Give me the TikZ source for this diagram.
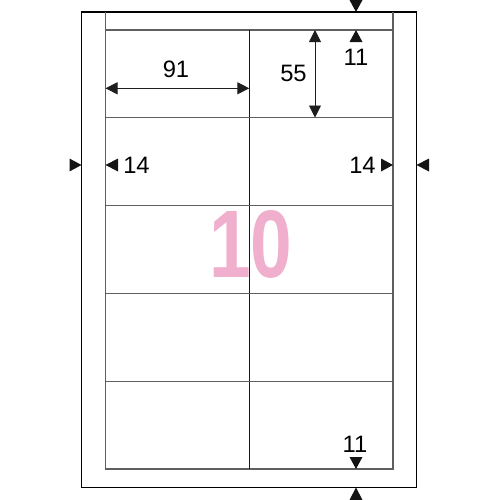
\documentclass[tikz,border=0pt]{standalone}
\usepackage{fontspec}
\setmainfont{Liberation Sans}
\usetikzlibrary{arrows.meta}

\definecolor{tenpink}{RGB}{241,175,206}
\definecolor{sheetgray}{RGB}{95,95,95}

\tikzset{
  dimline/.style={draw={rgb,255:red,30;green,30;blue,30}, line width=0.7pt,
    {Triangle[length=9pt,width=9pt]}-{Triangle[length=9pt,width=9pt]}},
  dimtext/.style={font=\fontsize{17.8}{20}\selectfont, inner sep=0pt},
  marker/.style={fill={rgb,255:red,20;green,20;blue,20}}
}

\begin{document}
\begin{tikzpicture}[x=0.75pt,y=0.75pt,yscale=-1,xscale=1]
\useasboundingbox (0,0) rectangle (500,500);

%Shape: Rectangle [id:sheet]
\draw [line width=0.9pt] (81.5,12) rectangle (416.5,487.5);

%Shape: Label area [id:labels]
\draw [color=sheetgray, line width=0.8pt] (105.5,12) -- (105.5,469) -- (393,469) -- (393,12) ;
\draw [color=sheetgray, line width=0.8pt] (105.5,30) -- (393,30) ;
\draw [color={rgb,255:red,25;green,25;blue,25}, line width=0.8pt] (249.3,30) -- (249.3,469) ;
\foreach \y in {117.5,205.5,293.5,381.5}
  \draw [color=sheetgray, line width=0.8pt] (105.5,\y) -- (393,\y) ;

%Dimension: width [id:w91]
\coordinate (w91a) at (105.5,88.3) ;
\coordinate (w91b) at (249.3,88.3) ;
\draw [dimline] (w91a) -- (w91b) ;
\node [dimtext] (lbl91) at (176,69) {91};

%Dimension: height [id:h55]
\coordinate (h55a) at (315,30) ;
\coordinate (h55b) at (315,117.5) ;
\draw [dimline] (h55a) -- (h55b) ;
\node [dimtext] (lbl55) at (293.5,73) {55};

%Markers: top margin
\fill [marker] (356,12) -- ++(-6.5,-12) -- ++(13,0) -- cycle ;
\fill [marker] (356,30) -- ++(-6.5,12) -- ++(13,0) -- cycle ;
\node [dimtext] (lbltop) at (356,57) {11};

%Markers: left margin
\fill [marker] (81.5,165) -- ++(-12,-6.5) -- ++(0,13) -- cycle ;
\fill [marker] (105.5,165) -- ++(12.5,-6.5) -- ++(0,13) -- cycle ;
\node [dimtext] (lblleft) at (136.5,165) {14};

%Markers: right margin
\fill [marker] (393,165) -- ++(-12,-6.5) -- ++(0,13) -- cycle ;
\fill [marker] (416.5,165) -- ++(12.5,-6.5) -- ++(0,13) -- cycle ;
\node [dimtext] (lblright) at (362.5,165) {14};

%Markers: bottom margin
\fill [marker] (356,469) -- ++(-6.5,-12) -- ++(13,0) -- cycle ;
\fill [marker] (356,487.5) -- ++(-6.5,12.5) -- ++(13,0) -- cycle ;
\node [dimtext] (lblbottom) at (355,444) {11};

%Text: count [id:ten]
\node [text=tenpink, font=\bfseries\fontsize{72}{80}\selectfont, xscale=0.78, inner sep=0pt] (ten) at (251,244) {10};

\end{tikzpicture}
\end{document}
